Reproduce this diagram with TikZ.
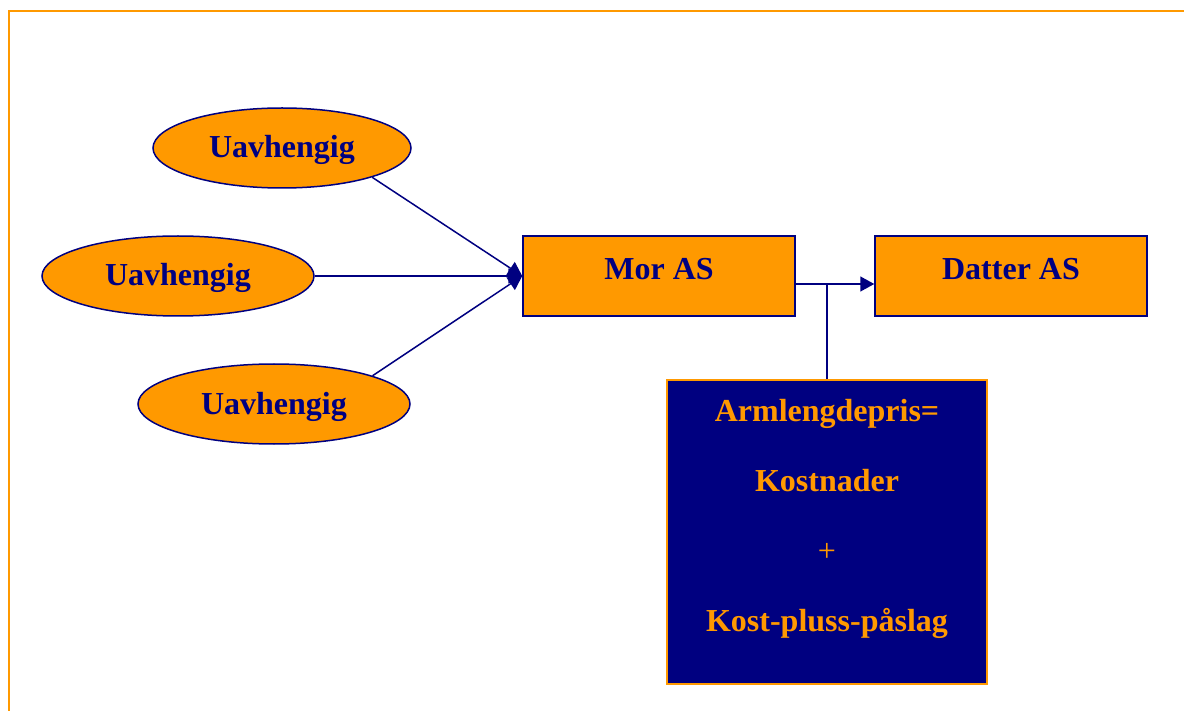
\documentclass[tikz,border=0pt]{standalone}
\usepackage{fontspec}
\setmainfont{Liberation Serif}
\usetikzlibrary{shapes.geometric,arrows.meta,calc}
\definecolor{boxorange}{HTML}{FF9900}
\definecolor{boxnavy}{HTML}{000080}
\tikzset{
  lbl/.style={font=\bfseries\fontsize{32}{38}\selectfont},
  party/.style={ellipse, draw=boxnavy, line width=1.5pt, fill=boxorange,
    minimum width=258pt, minimum height=80pt, inner sep=0pt, text=boxnavy, lbl,
    text height=24pt, text depth=4pt},
  company/.style={rectangle, draw=boxnavy, line width=1.5pt, fill=boxorange,
    minimum width=272pt, minimum height=80pt, inner sep=0pt, text=boxnavy, lbl,
    text height=22pt, text depth=14pt},
  pricebox/.style={rectangle, draw=boxorange, line width=2pt, fill=boxnavy,
    minimum width=320pt, minimum height=304pt, inner sep=0pt},
  pricetext/.style={text=boxorange, lbl, align=center, inner sep=0pt,
    font=\bfseries\fontsize{32}{70}\selectfont},
  link/.style={draw=boxnavy, line width=1.5pt},
  tip/.style={-{Triangle[length=14pt,width=15pt]}}
}
\begin{document}
\begin{tikzpicture}[x=1pt,y=-1pt]
  \useasboundingbox (0,0) rectangle (1184,711);
  % page frame
  \draw[boxorange, line width=2pt] (9,713) -- (9,11) -- (1186,11);

  % independent parties
  \node[party] (u1) at (282,148) {Uavhengig};
  \node[party, minimum width=272pt] (u2) at (178,276) {Uavhengig};
  \node[party, minimum width=272pt] (u3) at (274,404) {Uavhengig};

  % companies
  \node[company] (mor) at (659,276) {Mor AS};
  \node[company] (datter) at (1011,276) {Datter AS};

  % arm's length price box
  \node[pricebox] (price) at (827,532) {};
  \node[pricetext, anchor=north] (pricetxt) at ([yshift=-20pt]price.north)
    {Armlengdepris=\\Kostnader\\{\mdseries +}\\Kost-pluss-påslag};

  % connectors
  \draw[link, tip] (u1.-18) -- (mor.west);
  \draw[link, tip] (u2.east) -- (mor.west);
  \draw[link, tip] (u3.16) -- (mor.west);

  \coordinate (j) at (827,284);
  \draw[link, tip] (mor.east |- j) -- (datter.west |- j);
  \draw[link] (j) -- (price.north);
\end{tikzpicture}
\end{document}
